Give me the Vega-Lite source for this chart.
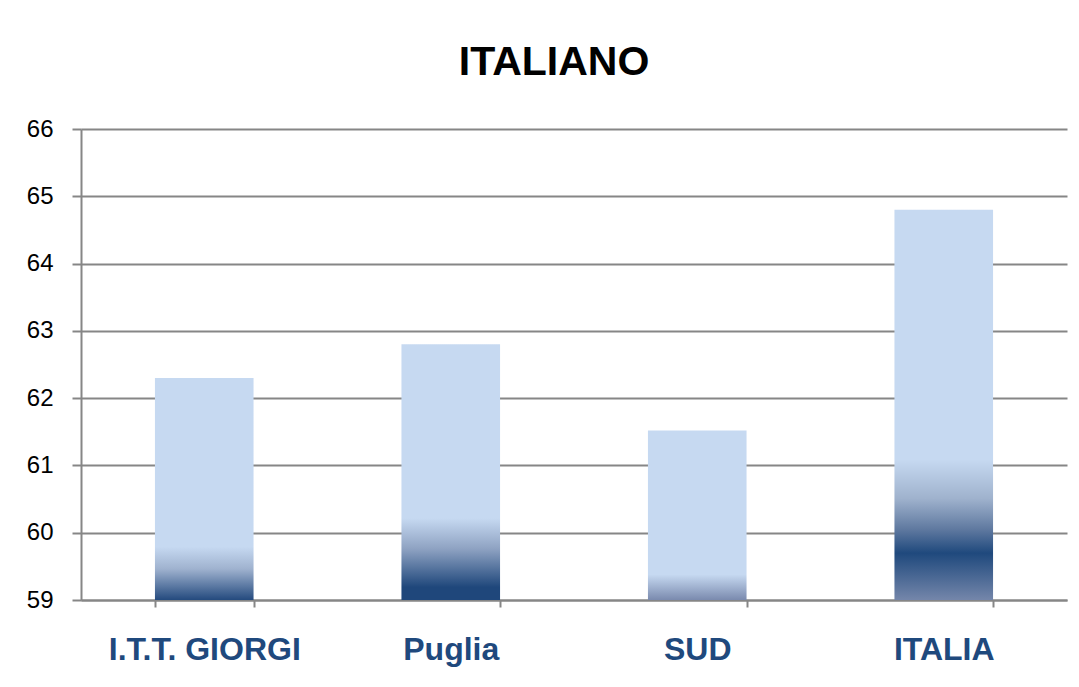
{
  "$schema": "https://vega.github.io/schema/vega-lite/v6.json",
  "width": 986,
  "height": 471,
  "padding": {"left": 26, "top": 42, "right": 10, "bottom": 10},
  "background": "white",
  "title": {
    "text": "ITALIANO",
    "font": "Liberation Sans",
    "fontSize": 41,
    "fontWeight": "bold",
    "color": "#000000",
    "anchor": "middle",
    "dx": -20,
    "offset": 33
  },
  "config": {
    "view": {"stroke": null},
    "font": "Liberation Sans"
  },
  "data": {
    "values": [
      {"area": "I.T.T. GIORGI", "value": 62.3},
      {"area": "Puglia", "value": 62.8},
      {"area": "SUD", "value": 61.52},
      {"area": "ITALIA", "value": 64.8}
    ]
  },
  "encoding": {
    "x": {
      "field": "area",
      "type": "nominal",
      "sort": null,
      "scale": {"paddingInner": 0.6, "paddingOuter": 0.3},
      "axis": {
        "title": null,
        "labelAngle": 0,
        "labelLimit": 0,
        "labelFontSize": 32,
        "labelFontWeight": "bold",
        "labelColor": "#1F497D",
        "labelPadding": 27,
        "tickBand": "extent",
        "tickSize": 7,
        "tickColor": "#868686",
        "tickWidth": 2,
        "domainColor": "#868686",
        "domainWidth": 2,
        "grid": false
      }
    },
    "y": {
      "field": "value",
      "type": "quantitative",
      "scale": {"domain": [59, 66], "zero": false, "nice": false},
      "axis": {
        "title": null,
        "values": [59, 60, 61, 62, 63, 64, 65, 66],
        "labelFontSize": 24,
        "labelColor": "#000000",
        "labelPadding": 19,
        "tickSize": 9,
        "tickColor": "#868686",
        "tickWidth": 2,
        "domainColor": "#868686",
        "domainWidth": 2,
        "gridColor": "#868686",
        "gridWidth": 2,
        "gridOpacity": 1
      }
    },
    "y2": {"datum": 59}
  },
  "layer": [
    {
      "transform": [{"filter": "datum.area === 'I.T.T. GIORGI'"}],
      "mark": {
        "type": "bar",
        "fill": {
          "gradient": "linear", "x1": 0, "y1": 0, "x2": 0, "y2": 1,
          "stops": [
            {"offset": 0, "color": "#c6d9f1"},
            {"offset": 0.76, "color": "#c6d9f1"},
            {"offset": 0.86, "color": "#9fb2cf"},
            {"offset": 1, "color": "#244a7e"}
          ]
        }
      }
    },
    {
      "transform": [{"filter": "datum.area === 'Puglia'"}],
      "mark": {
        "type": "bar",
        "fill": {
          "gradient": "linear", "x1": 0, "y1": 0, "x2": 0, "y2": 1,
          "stops": [
            {"offset": 0, "color": "#c6d9f1"},
            {"offset": 0.68, "color": "#c6d9f1"},
            {"offset": 0.8, "color": "#8ea2c2"},
            {"offset": 0.95, "color": "#1f477b"},
            {"offset": 1, "color": "#1f477b"}
          ]
        }
      }
    },
    {
      "transform": [{"filter": "datum.area === 'SUD'"}],
      "mark": {
        "type": "bar",
        "fill": {
          "gradient": "linear", "x1": 0, "y1": 0, "x2": 0, "y2": 1,
          "stops": [
            {"offset": 0, "color": "#c6d9f1"},
            {"offset": 0.85, "color": "#c6d9f1"},
            {"offset": 1, "color": "#7a8aae"}
          ]
        }
      }
    },
    {
      "transform": [{"filter": "datum.area === 'ITALIA'"}],
      "mark": {
        "type": "bar",
        "fill": {
          "gradient": "linear", "x1": 0, "y1": 0, "x2": 0, "y2": 1,
          "stops": [
            {"offset": 0, "color": "#c6d9f1"},
            {"offset": 0.64, "color": "#c6d9f1"},
            {"offset": 0.74, "color": "#9fb2cd"},
            {"offset": 0.82, "color": "#5e789f"},
            {"offset": 0.88, "color": "#1f497d"},
            {"offset": 1, "color": "#7486aa"}
          ]
        }
      }
    }
  ]
}
